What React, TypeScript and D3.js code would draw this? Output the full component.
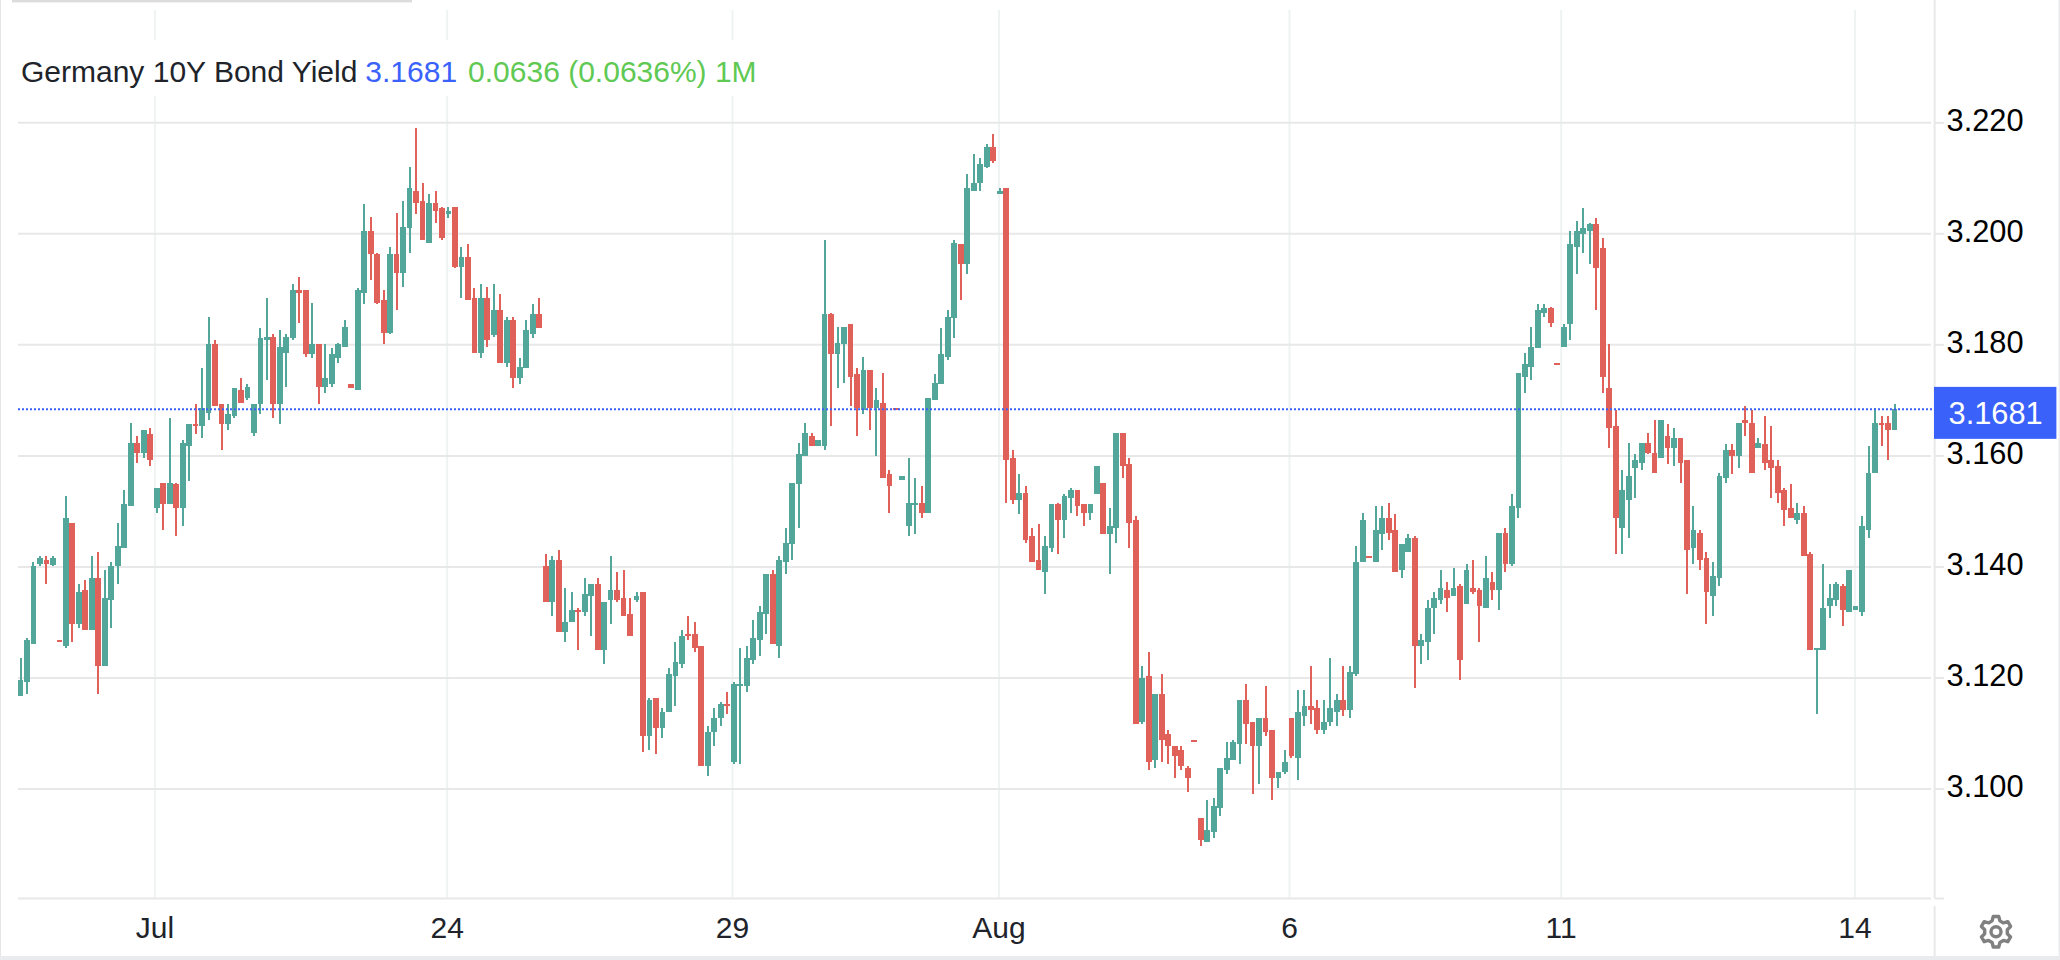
import React from "react";
import * as d3 from "d3";

const opens = [
3.1167,3.1193,3.1261,3.1405,3.1412,3.1404,3.1268,3.1258,3.1480,3.1297,
3.1358,3.1286,3.1380,3.1222,3.1340,3.1401,3.1434,3.1510,3.1624,3.1606,
3.1639,3.1506,3.1552,3.1513,3.1549,3.1506,3.1617,3.1657,3.1653,3.1678,
3.1801,3.1693,3.1657,3.1671,3.1718,3.1704,3.1642,3.1693,3.1809,3.1815,
3.1693,3.1786,3.1812,3.1898,3.1898,3.1783,3.1801,3.1725,3.1729,3.1776,
3.1797,3.1729,3.1718,3.1894,3.2006,3.1963,3.1880,3.1822,3.1963,3.1930,
3.2010,3.2078,3.2060,3.1984,3.2056,3.2046,3.2035,3.2049,3.1941,3.1959,
3.1884,3.1786,3.1884,3.1818,3.1862,3.1768,3.1844,3.1740,3.1758,3.1819,
3.1855,3.1401,3.1336,3.1412,3.1282,3.1300,3.1322,3.1318,3.1347,3.1369,
3.1250,3.1340,3.1358,3.1344,3.1315,3.1340,3.1354,3.1095,3.1164,3.1110,
3.1138,3.1203,3.1225,3.1279,3.1279,3.1257,3.1042,3.1102,3.1128,3.1153,
3.1048,3.1185,3.1185,3.1232,3.1268,3.1315,3.1387,3.1257,3.1408,3.1441,
3.1549,3.1599,3.1635,3.1617,3.1617,3.1855,3.1783,3.1801,3.1837,3.1747,
3.1682,3.1754,3.1686,3.1696,3.1567,3.1686,3.1556,3.1473,3.1513,3.1516,
3.1498,3.1700,3.1729,3.1779,3.1848,3.1981,3.1945,3.2078,3.2092,3.2121,
3.2157,3.2071,3.2082,3.1596,3.1520,3.1534,3.1455,3.1412,3.1390,3.1434,
3.1513,3.1484,3.1524,3.1538,3.1513,3.1498,3.1531,3.1552,3.1459,3.1470,
3.1642,3.1585,3.1484,3.1120,3.1203,3.1052,3.1171,3.1099,3.1077,3.1070,
3.1038,3.1088,3.0948,3.0904,3.0922,3.0966,3.1034,3.1052,3.1081,3.1160,
3.1120,3.1077,3.1128,3.1106,3.1020,3.1030,3.1128,3.1056,3.1131,3.1149,
3.1146,3.1106,3.1120,3.1138,3.1160,3.1142,3.1207,3.1408,3.1419,3.1408,
3.1459,3.1488,3.1466,3.1394,3.1426,3.1452,3.1257,3.1264,3.1326,3.1340,
3.1358,3.1347,3.1365,3.1333,3.1362,3.1358,3.1326,3.1372,3.1358,3.1462,
3.1405,3.1506,3.1743,3.1761,3.1794,3.1858,3.1866,3.1768,3.1797,3.1837,
3.1977,3.1999,3.2006,3.2017,3.1974,3.1722,3.1653,3.1470,3.1520,3.1578,
3.1588,3.1624,3.1606,3.1596,3.1635,3.1614,3.1632,3.1592,3.1434,3.1462,
3.1416,3.1347,3.1380,3.1560,3.1610,3.1599,3.1664,3.1660,3.1614,3.1621,
3.1592,3.1581,3.1538,3.1506,3.1484,3.1498,3.1423,3.1250,3.1250,3.1329,
3.1340,3.1365,3.1318,3.1322,3.1318,3.1466,3.1570,3.1660,3.1660,3.1646,
];

const highs = [
3.1236,3.1272,3.1408,3.1419,3.1419,3.1419,3.1268,3.1527,3.1480,3.1369,
3.1376,3.1419,3.1426,3.1394,3.1408,3.1480,3.1538,3.1660,3.1635,3.1646,
3.1650,3.1542,3.1552,3.1668,3.1552,3.1628,3.1657,3.1693,3.1758,3.1851,
3.1808,3.1693,3.1693,3.1722,3.1740,3.1729,3.1693,3.1830,3.1884,3.1819,
3.1826,3.1819,3.1909,3.1923,3.1898,3.1876,3.1801,3.1801,3.1794,3.1804,
3.1844,3.1729,3.1902,3.2053,3.2031,3.1966,3.1898,3.1977,3.2038,3.2060,
3.2121,3.2190,3.2092,3.2071,3.2078,3.2049,3.2049,3.2049,3.1977,3.1981,
3.1902,3.1909,3.1905,3.1909,3.1891,3.1851,3.1851,3.1776,3.1844,3.1873,
3.1884,3.1423,3.1419,3.1430,3.1362,3.1354,3.1326,3.1380,3.1369,3.1380,
3.1336,3.1419,3.1390,3.1394,3.1344,3.1354,3.1354,3.1164,3.1164,3.1146,
3.1218,3.1264,3.1286,3.1311,3.1300,3.1257,3.1113,3.1146,3.1156,3.1174,
3.1192,3.1254,3.1257,3.1304,3.1329,3.1387,3.1394,3.1419,3.1470,3.1552,
3.1624,3.1660,3.1642,3.1628,3.1988,3.1858,3.1833,3.1833,3.1837,3.1758,
3.1779,3.1754,3.1722,3.1750,3.1574,3.1686,3.1563,3.1596,3.1560,3.1545,
3.1704,3.1747,3.1830,3.1862,3.1988,3.1981,3.2107,3.2143,3.2136,3.2161,
3.2179,3.2082,3.2082,3.1610,3.1567,3.1545,3.1470,3.1477,3.1455,3.1513,
3.1516,3.1531,3.1542,3.1538,3.1513,3.1513,3.1581,3.1552,3.1506,3.1642,
3.1642,3.1596,3.1491,3.1221,3.1246,3.1171,3.1207,3.1106,3.1077,3.1077,
3.1041,3.1088,3.0948,3.0980,3.0984,3.1038,3.1084,3.1088,3.1160,3.1189,
3.1120,3.1128,3.1185,3.1106,3.1030,3.1070,3.1128,3.1178,3.1178,3.1221,
3.1160,3.1160,3.1236,3.1171,3.1221,3.1221,3.1437,3.1498,3.1419,3.1509,
3.1509,3.1516,3.1495,3.1441,3.1459,3.1455,3.1279,3.1340,3.1354,3.1394,
3.1372,3.1398,3.1369,3.1405,3.1412,3.1362,3.1419,3.1390,3.1462,3.1470,
3.1531,3.1750,3.1786,3.1833,3.1873,3.1873,3.1869,3.1768,3.1837,3.2006,
3.2024,3.2046,3.2020,3.2028,3.1992,3.1801,3.1682,3.1574,3.1624,3.1603,
3.1624,3.1642,3.1664,3.1664,3.1657,3.1650,3.1632,3.1592,3.1509,3.1466,
3.1426,3.1408,3.1570,3.1621,3.1621,3.1660,3.1689,3.1682,3.1632,3.1671,
3.1653,3.1592,3.1542,3.1549,3.1516,3.1509,3.1426,3.1254,3.1405,3.1369,
3.1372,3.1369,3.1394,3.1329,3.1491,3.1617,3.1686,3.1671,3.1671,3.1693,
];

const lows = [
3.1167,3.1171,3.1261,3.1401,3.1369,3.1401,3.1264,3.1254,3.1264,3.1290,
3.1286,3.1286,3.1171,3.1222,3.1290,3.1369,3.1434,3.1510,3.1588,3.1596,
3.1581,3.1498,3.1466,3.1513,3.1455,3.1473,3.1555,3.1639,3.1632,3.1664,
3.1689,3.1610,3.1646,3.1668,3.1696,3.1700,3.1635,3.1675,3.1736,3.1668,
3.1657,3.1725,3.1808,3.1840,3.1779,3.1776,3.1693,3.1714,3.1725,3.1768,
3.1797,3.1722,3.1718,3.1873,3.1916,3.1873,3.1801,3.1819,3.1862,3.1905,
3.1966,3.2035,3.1988,3.1984,3.2020,3.1988,3.2028,3.1938,3.1884,3.1880,
3.1786,3.1776,3.1797,3.1815,3.1768,3.1761,3.1722,3.1729,3.1758,3.1812,
3.1830,3.1336,3.1311,3.1282,3.1264,3.1300,3.1250,3.1311,3.1275,3.1250,
3.1225,3.1297,3.1336,3.1311,3.1275,3.1336,3.1066,3.1070,3.1063,3.1092,
3.1138,3.1149,3.1218,3.1268,3.1246,3.1042,3.1024,3.1077,3.1113,3.1135,
3.1045,3.1045,3.1174,3.1225,3.1239,3.1279,3.1261,3.1236,3.1387,3.1412,
3.1470,3.1599,3.1617,3.1617,3.1610,3.1653,3.1722,3.1732,3.1689,3.1635,
3.1675,3.1646,3.1599,3.1560,3.1498,3.1682,3.1556,3.1455,3.1459,3.1488,
3.1498,3.1700,3.1729,3.1772,3.1812,3.1880,3.1927,3.2078,3.2078,3.2118,
3.2128,3.2071,3.1516,3.1513,3.1495,3.1444,3.1408,3.1394,3.1351,3.1426,
3.1423,3.1452,3.1498,3.1491,3.1473,3.1484,3.1531,3.1459,3.1387,3.1444,
3.1560,3.1434,3.1117,3.1117,3.1034,3.1038,3.1048,3.1045,3.1020,3.1034,
3.0994,3.1084,3.0897,3.0904,3.0912,3.0951,3.1027,3.1052,3.1045,3.1081,
3.0991,3.1009,3.1095,3.0980,3.1002,3.1027,3.1056,3.1016,3.1113,3.1117,
3.1099,3.1099,3.1113,3.1113,3.1131,3.1128,3.1203,3.1408,3.1416,3.1408,
3.1430,3.1448,3.1390,3.1380,3.1426,3.1182,3.1225,3.1232,3.1279,3.1333,
3.1318,3.1347,3.1196,3.1333,3.1351,3.1264,3.1326,3.1340,3.1322,3.1390,
3.1401,3.1488,3.1714,3.1736,3.1794,3.1851,3.1833,3.1765,3.1797,3.1808,
3.1927,3.1966,3.1945,3.1862,3.1714,3.1614,3.1423,3.1423,3.1452,3.1524,
3.1574,3.1603,3.1570,3.1596,3.1585,3.1581,3.1552,3.1351,3.1405,3.1394,
3.1297,3.1311,3.1365,3.1552,3.1567,3.1578,3.1635,3.1570,3.1614,3.1574,
3.1524,3.1516,3.1473,3.1488,3.1477,3.1419,3.1250,3.1135,3.1250,3.1308,
3.1329,3.1293,3.1318,3.1322,3.1311,3.1452,3.1570,3.1617,3.1592,3.1646,
];

const closes = [
3.1196,3.1268,3.1401,3.1416,3.1405,3.1416,3.1264,3.1488,3.1297,3.1354,
3.1286,3.1380,3.1222,3.1344,3.1401,3.1437,3.1513,3.1624,3.1606,3.1646,
3.1592,3.1542,3.1513,3.1552,3.1506,3.1624,3.1657,3.1653,3.1686,3.1801,
3.1689,3.1657,3.1675,3.1722,3.1696,3.1725,3.1693,3.1812,3.1815,3.1693,
3.1797,3.1815,3.1898,3.1894,3.1783,3.1801,3.1725,3.1740,3.1783,3.1801,
3.1833,3.1722,3.1898,3.2006,3.1963,3.1876,3.1822,3.1963,3.1930,3.2013,
3.2082,3.2056,3.1988,3.2056,3.2042,3.1992,3.2042,3.1941,3.1959,3.1880,
3.1786,3.1884,3.1808,3.1862,3.1768,3.1844,3.1740,3.1761,3.1826,3.1855,
3.1830,3.1336,3.1412,3.1282,3.1300,3.1322,3.1318,3.1351,3.1369,3.1250,
3.1336,3.1358,3.1340,3.1311,3.1275,3.1347,3.1095,3.1160,3.1110,3.1138,
3.1207,3.1228,3.1275,3.1275,3.1254,3.1042,3.1102,3.1128,3.1153,3.1149,
3.1189,3.1189,3.1236,3.1272,3.1318,3.1387,3.1261,3.1412,3.1444,3.1552,
3.1603,3.1642,3.1617,3.1628,3.1855,3.1783,3.1804,3.1833,3.1743,3.1686,
3.1754,3.1686,3.1700,3.1560,3.1545,3.1682,3.1563,3.1516,3.1516,3.1498,
3.1704,3.1732,3.1783,3.1851,3.1984,3.1945,3.2082,3.2092,3.2125,3.2157,
3.2132,3.2078,3.1592,3.1520,3.1534,3.1448,3.1408,3.1394,3.1437,3.1513,
3.1484,3.1527,3.1538,3.1509,3.1498,3.1513,3.1581,3.1459,3.1473,3.1642,
3.1581,3.1480,3.1117,3.1200,3.1048,3.1171,3.1088,3.1077,3.1059,3.1041,
3.1020,3.1084,3.0908,3.0926,3.0969,3.1038,3.1056,3.1084,3.1160,3.1117,
3.1077,3.1128,3.1102,3.1020,3.1030,3.1048,3.1059,3.1138,3.1149,3.1142,
3.1106,3.1120,3.1146,3.1160,3.1142,3.1210,3.1408,3.1484,3.1416,3.1466,
3.1488,3.1462,3.1390,3.1441,3.1452,3.1257,3.1268,3.1326,3.1344,3.1362,
3.1344,3.1362,3.1232,3.1394,3.1354,3.1329,3.1380,3.1358,3.1462,3.1405,
3.1509,3.1750,3.1765,3.1797,3.1862,3.1866,3.1840,3.1765,3.1833,3.1981,
3.2006,3.2010,3.2017,3.1938,3.1743,3.1650,3.1488,3.1538,3.1563,3.1592,
3.1624,3.1606,3.1570,3.1664,3.1614,3.1632,3.1588,3.1430,3.1466,3.1412,
3.1354,3.1383,3.1563,3.1610,3.1599,3.1660,3.1660,3.1570,3.1624,3.1588,
3.1578,3.1534,3.1502,3.1488,3.1498,3.1419,3.1250,3.1254,3.1326,3.1344,
3.1369,3.1322,3.1394,3.1329,3.1473,3.1570,3.1660,3.1657,3.1646,3.1684,
];

const yTicks = [3.1, 3.12, 3.14, 3.16, 3.18, 3.2, 3.22];
const timeLabels = ["Jul", "24", "29", "Aug", "6", "11", "14"];
const timePositions = [20.74, 65.8, 109.8, 150.9, 195.7, 237.6, 282.9];
const legendName = "Germany 10Y Bond Yield";
const legendLast = "3.1681";
const legendChange = "0.0636 (0.0636%) 1M";
const lastLabel = "3.1681";

const GREEN = "#53a69a";
const RED = "#e0605a";
const BLUE = "#3a62fb";
const FONT = "'Liberation Sans', Arial, sans-serif";
const FS = 30;
const AXIS_FS = 30.8;

const W = 2060;
const H = 960;
const plotL = 18;
const plotR = 1931;
const axisX = 1934.6;
const plotB = 898.5;

const x = d3.scaleLinear().domain([0, opens.length - 1]).range([20.5, 1894.5]);
const y = d3.scaleLinear().domain([3.1, 3.22]).range([789, 122.8]);

function gearPath(): string {
  const pts: [number, number][] = [];
  const teeth = 6;
  for (let k = 0; k < teeth; k++) {
    const a = (k / teeth) * 2 * Math.PI;
    const step = (2 * Math.PI) / teeth;
    pts.push([a - step * 0.17, 15.5], [a + step * 0.17, 15.5], [a + step * 0.33, 11.5], [a + step * 0.67, 11.5]);
  }
  return (d3.lineRadial().curve(d3.curveLinearClosed) as any)(pts) as string;
}

export default function App() {
  const lastClose = closes[closes.length - 1];
  const bodyW = 5.8;
  const wickW = 2;
  return (
    <svg
      width={W}
      height={H}
      viewBox={`0 0 ${W} ${H}`}
      style={{ position: "absolute", left: 0, top: 0, display: "block", background: "#fff" }}
      fontFamily={FONT}
    >
      <rect x={0} y={0} width={1} height={H} fill="#e4e6ea" />
      <rect x={12} y={0} width={400} height={2.4} fill="#dcdcdc" />
      <rect x={0} y={956} width={W} height={4} fill="#e9ebef" />
      <rect x={2058.5} y={0} width={1.5} height={H} fill="#e9ebef" />

      {timePositions.map((t, i) => (
        <line key={i} x1={x(t)} x2={x(t)} y1={10} y2={plotB} stroke="#f0f3f3" strokeWidth={2} />
      ))}
      <rect x={14} y={40} width={746} height={56} fill="#fff" />

      {yTicks.map((t) => (
        <g key={t}>
          <line x1={plotL} x2={plotR} y1={y(t)} y2={y(t)} stroke="#e8e8e8" strokeWidth={2} />
          <line x1={axisX} x2={1944} y1={y(t)} y2={y(t)} stroke="#e8e8e8" strokeWidth={2} />
          <text x={1946.5} y={y(t) + 8.4} fontSize={AXIS_FS} fill="#000">
            {t.toFixed(3)}
          </text>
        </g>
      ))}
      <line x1={plotL} x2={plotR} y1={plotB} y2={plotB} stroke="#e8e8e8" strokeWidth={2} />
      <line x1={axisX} x2={1944} y1={plotB} y2={plotB} stroke="#e8e8e8" strokeWidth={2} />
      <line x1={axisX} x2={axisX} y1={0} y2={plotB} stroke="#e8e8e8" strokeWidth={2} />
      <line x1={axisX} x2={axisX} y1={906} y2={956} stroke="#e8e8e8" strokeWidth={2} />

      <g shapeRendering="crispEdges">
        {opens.map((o, i) => {
          const c = closes[i];
          const up = c >= o;
          const col = up ? GREEN : RED;
          const top = y(Math.max(o, c));
          const bot = y(Math.min(o, c));
          return (
            <g key={i} fill={col}>
              <rect x={x(i) - wickW / 2} y={y(highs[i])} width={wickW} height={Math.max(0, y(lows[i]) - y(highs[i]))} />
              <rect x={x(i) - bodyW / 2} y={top} width={bodyW} height={Math.max(2, bot - top)} />
            </g>
          );
        })}
      </g>

      <line
        x1={plotL}
        x2={axisX}
        y1={y(lastClose)}
        y2={y(lastClose)}
        stroke={BLUE}
        strokeWidth={2}
        strokeDasharray="2 2"
      />
      <rect x={axisX - 0.6} y={y(lastClose) - 22.4} width={2057 - axisX} height={52} fill={BLUE} />
      <text x={1948.5} y={y(lastClose) + 15} fontSize={AXIS_FS} fill="#fff">
        {lastLabel}
      </text>

      <text x={21} y={81.5} fontSize={FS} fill="#20232a">
        {legendName}
        <tspan dx={8} fill={BLUE}>{legendLast}</tspan>
        <tspan dx={11} fill="#60c954">{legendChange}</tspan>
      </text>

      {timeLabels.map((l, i) => (
        <text key={l} x={x(timePositions[i])} y={938} fontSize={FS} fill="#20232a" textAnchor="middle">
          {l}
        </text>
      ))}

      <g transform="translate(1996,931.7)" fill="none" stroke="#808080" strokeWidth={3.4} strokeLinejoin="round">
        <path d={gearPath()} />
        <circle r={5} />
      </g>
    </svg>
  );
}
